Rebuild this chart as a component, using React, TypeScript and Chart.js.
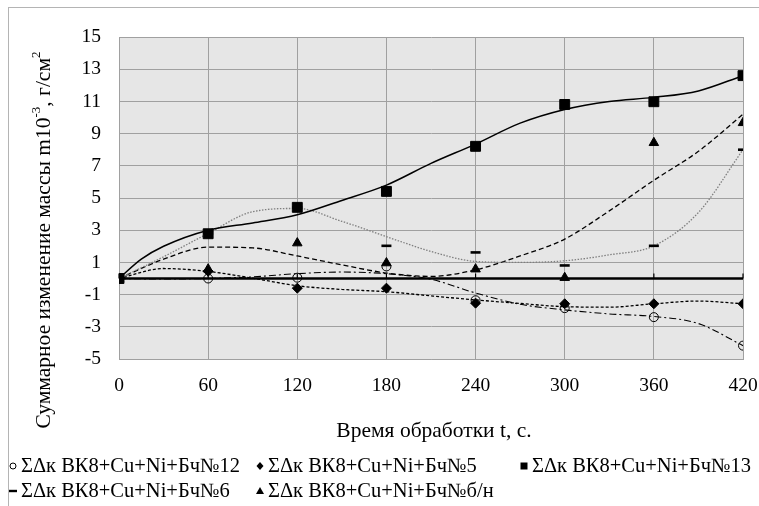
import React, { useEffect, useRef } from 'react';
import { Chart, registerables } from 'chart.js';

Chart.register(...registerables);

// ---- data ----
const times = [0, 60, 120, 180, 240, 300, 360, 420];
const yTicks = [-5, -3, -1, 1, 3, 5, 7, 9, 11, 13, 15];

const s12 = [0, 0, 0.05, 0.75, -1.35, -1.84, -2.4, -4.17];
const s5 = [0, 0.45, -0.6, -0.6, -1.53, -1.57, -1.57, -1.57];
const s13 = [0, 2.78, 4.42, 5.41, 8.21, 10.81, 10.98, 12.6];
const s6 = [0, 2.8, 4.42, 2.03, 1.62, 0.81, 2.03, 8.0];
const sbn = [0, 0.58, 2.2, 0.96, 0.58, 0.05, 8.43, 9.67];

// trend curves
const trendTimes = [0, 30, 60, 90, 120, 150, 180, 210, 240, 270, 300, 330, 360, 390, 420];
const trend13Times = [0, 15, 30, 60, 90, 120, 150, 180, 210, 240, 270, 300, 330, 360, 390, 420];
const trend13 = [0, 1.2, 2.0, 3.0, 3.45, 3.96, 4.85, 5.8, 7.15, 8.35, 9.65, 10.5, 11.0, 11.25, 11.65, 12.6];
const trendBn = [0, 1.2, 1.95, 1.9, 1.4, 0.85, 0.34, 0.13, 0.54, 1.4, 2.45, 4.2, 6.1, 7.9, 10.2];
const trend6 = [0, 1.35, 2.8, 4.15, 4.35, 3.55, 2.6, 1.68, 1.06, 1.0, 1.1, 1.47, 2.03, 4.1, 8.0];
const trend5 = [0, 0.62, 0.44, 0.02, -0.45, -0.68, -0.82, -1.08, -1.33, -1.55, -1.75, -1.78, -1.57, -1.4, -1.57];
const trend12 = [0, -0.03, 0.0, 0.1, 0.3, 0.4, 0.3, -0.05, -0.9, -1.6, -1.95, -2.2, -2.36, -2.8, -4.17];

const legendLabels = [
  'ΣΔк ВК8+Cu+Ni+Бч№12',
  'ΣΔк ВК8+Cu+Ni+Бч№5',
  'ΣΔк ВК8+Cu+Ni+Бч№13',
  'ΣΔк ВК8+Cu+Ni+Бч№6',
  'ΣΔк ВК8+Cu+Ni+Бч№б/н',
];
const xTitle = 'Время обработки t, с.';
const yTitleParts: [string, boolean][] = [
  ['Суммарное изменение массы m10', false],
  ['-3', true],
  [', г/см', false],
  ['2', true],
];

const FONT = "'Liberation Serif', 'Times New Roman', serif";

const pts = (xs: number[], ys: number[]) => xs.map((x, i) => ({ x, y: ys[i] }));

function drawMarker(ctx: CanvasRenderingContext2D, kind: string, x: number, y: number) {
  ctx.save();
  ctx.fillStyle = '#000';
  ctx.strokeStyle = '#000';
  ctx.beginPath();
  if (kind === 'circle') {
    ctx.lineWidth = 1;
    ctx.arc(x, y, 3, 0, Math.PI * 2);
    ctx.stroke();
  } else if (kind === 'diamond') {
    ctx.moveTo(x, y - 4);
    ctx.lineTo(x + 3.5, y);
    ctx.lineTo(x, y + 4);
    ctx.lineTo(x - 3.5, y);
    ctx.closePath();
    ctx.fill();
  } else if (kind === 'square') {
    ctx.rect(x - 3.5, y - 3.5, 7, 7);
    ctx.fill();
  } else if (kind === 'dash') {
    ctx.rect(x - 4, y - 1.2, 8, 2.4);
    ctx.fill();
  } else if (kind === 'triangle') {
    ctx.moveTo(x, y - 4);
    ctx.lineTo(x + 4, y + 3);
    ctx.lineTo(x - 4, y + 3);
    ctx.closePath();
    ctx.fill();
  }
  ctx.restore();
}

const legendLayout: [number, number, string][] = [
  [13, 466, 'circle'],
  [260, 466, 'diamond'],
  [524, 466, 'square'],
  [13, 491, 'dash'],
  [260, 491, 'triangle'],
];

const decorPlugin = {
  id: 'decor',
  beforeDraw(chart: any) {
    const { ctx, chartArea: a } = chart;
    ctx.save();
    ctx.fillStyle = '#e6e6e6';
    ctx.fillRect(a.left, a.top, a.right - a.left, a.bottom - a.top);
    ctx.restore();
  },
  beforeDatasetsDraw(chart: any) {
    const { ctx, chartArea: a, scales } = chart;
    const y0 = scales.y.getPixelForValue(0);
    ctx.save();
    ctx.strokeStyle = '#000';
    ctx.lineWidth = 2.5;
    ctx.beginPath();
    ctx.moveTo(a.left, y0);
    ctx.lineTo(a.right, y0);
    ctx.stroke();
    ctx.lineWidth = 1.2;
    for (const t of times) {
      const x = scales.x.getPixelForValue(t);
      ctx.beginPath();
      ctx.moveTo(x, y0);
      ctx.lineTo(x, y0 - 5);
      ctx.stroke();
    }
    ctx.restore();
  },
  afterDraw(chart: any) {
    const { ctx, chartArea: a } = chart;
    ctx.save();
    ctx.fillStyle = '#000';
    // x title
    ctx.font = `21.5px ${FONT}`;
    ctx.textAlign = 'center';
    ctx.textBaseline = 'middle';
    ctx.fillText(xTitle, (a.left + a.right) / 2 + 3, 431);
    // y title with superscripts
    ctx.save();
    ctx.translate(44, 240);
    ctx.rotate(-Math.PI / 2);
    const big = `21.5px ${FONT}`;
    const small = `13px ${FONT}`;
    let total = 0;
    for (const [t, sup] of yTitleParts) {
      ctx.font = sup ? small : big;
      total += ctx.measureText(t).width;
    }
    let x = -total / 2;
    ctx.textAlign = 'left';
    for (const [t, sup] of yTitleParts) {
      ctx.font = sup ? small : big;
      ctx.fillText(t, x, sup ? -7 : 0);
      x += ctx.measureText(t).width;
    }
    ctx.restore();
    // legend
    ctx.font = `20.5px ${FONT}`;
    ctx.textAlign = 'left';
    ctx.textBaseline = 'middle';
    legendLayout.forEach(([lx, ly, kind], i) => {
      drawMarker(ctx, kind, lx, ly);
      ctx.fillStyle = '#000';
      ctx.fillText(legendLabels[i], lx + 8, ly + 1);
    });
    ctx.restore();
  },
};

export default function App() {
  const ref = useRef<HTMLCanvasElement>(null);
  useEffect(() => {
    if (!ref.current) return;
    const marker = (data: number[], style: any, radius: number, extra: any = {}) => ({
      data: pts(times, data),
      showLine: false,
      pointStyle: style,
      pointRadius: radius,
      pointHoverRadius: radius,
      pointBackgroundColor: '#000',
      pointBorderColor: '#000',
      pointBorderWidth: 1,
      order: 0,
      ...extra,
    });
    const trend = (xs: number[], ys: number[], color: string, dash: number[], width: number) => ({
      data: pts(xs, ys),
      showLine: true,
      pointRadius: 0,
      borderColor: color,
      borderWidth: width,
      borderDash: dash,
      tension: 0.4,
      cubicInterpolationMode: 'monotone',
      fill: false,
      order: 1,
    });
    const chart = new Chart(ref.current, {
      type: 'scatter',
      data: {
        datasets: [
          trend(trendTimes, trend12, '#000', [7, 3, 2, 3], 1.1),
          trend(trendTimes, trend5, '#000', [3, 2], 1.3),
          trend(trend13Times, trend13, '#000', [], 1.5),
          trend(trendTimes, trend6, '#7f7f7f', [1.5, 1.5], 1.3),
          trend(trendTimes, trendBn, '#000', [5, 3], 1.3),
          marker(s12, 'circle', 4.5, { pointBackgroundColor: 'rgba(0,0,0,0)' }),
          marker(s5, 'rectRot', 5),
          marker(s13, 'rect', 7),
          marker(s6, 'line', 5, { pointBorderWidth: 2.6 }),
          marker(sbn, 'triangle', 5.5),
        ] as any,
      },
      options: {
        animation: false,
        responsive: false,
        devicePixelRatio: 1,
        layout: { padding: { top: 37, right: 16, left: 0, bottom: 0 } },
        plugins: { legend: { display: false }, tooltip: { enabled: false } },
        scales: {
          x: {
            type: 'linear',
            min: 0,
            max: 420,
            afterBuildTicks: (s: any) => {
              s.ticks = times.map((v) => ({ value: v }));
            },
            afterFit: (s: any) => {
              s.height = 147;
              s.paddingLeft = 0;
              s.paddingRight = 0;
            },
            grid: { color: '#a0a0a0', lineWidth: 1, drawTicks: false },
            border: { color: '#a0a0a0' },
            ticks: { color: '#000', font: { family: FONT, size: 19.5 }, padding: 15, maxRotation: 0 },
          },
          y: {
            type: 'linear',
            min: -5,
            max: 15,
            afterBuildTicks: (s: any) => {
              s.ticks = yTicks.map((v) => ({ value: v }));
            },
            afterFit: (s: any) => {
              s.width = 119;
            },
            grid: { color: '#a0a0a0', lineWidth: 1, drawTicks: false },
            border: { color: '#a0a0a0' },
            ticks: { color: '#000', font: { family: FONT, size: 19.5 }, padding: 18 },
          },
        },
      },
      plugins: [decorPlugin],
    });
    return () => chart.destroy();
  }, []);
  return (
    <div style={{ position: 'absolute', left: 0, top: 0, width: 759, height: 506, background: '#fff', overflow: 'hidden' }}>
      <div
        style={{
          position: 'absolute',
          left: 8,
          top: 7,
          width: 760,
          height: 510,
          borderTop: '1px solid #b4b4b4',
          borderLeft: '1px solid #b4b4b4',
        }}
      />
      <canvas ref={ref} width={759} height={506} style={{ position: 'absolute', left: 0, top: 0, width: 759, height: 506 }} />
    </div>
  );
}
